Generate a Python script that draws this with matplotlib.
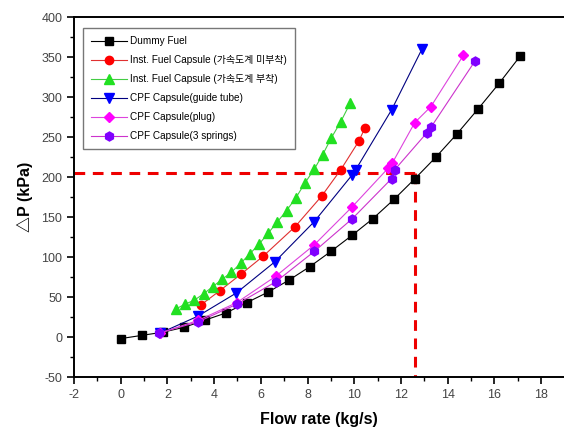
import matplotlib
matplotlib.use("Agg")
import matplotlib.pyplot as plt
from matplotlib.ticker import MultipleLocator

plt.rcParams['font.family'] = ['Liberation Sans', 'Noto Sans CJK KR', 'DejaVu Sans']
plt.rcParams['axes.unicode_minus'] = False

# Data
dummy_x = [0, 0.9, 1.8, 2.7, 3.6, 4.5, 5.4, 6.3, 7.2, 8.1, 9.0, 9.9, 10.8, 11.7, 12.6, 13.5, 14.4, 15.3, 16.2, 17.1]
dummy_y = [-2, 2, 6, 12, 21, 30, 43, 56, 71, 88, 107, 127, 148, 172, 198, 225, 254, 285, 317, 351]

inst_red_x = [3.43, 4.25, 5.17, 6.1, 7.47, 8.6, 9.42, 10.2, 10.45]
inst_red_y = [40, 58, 79, 101, 138, 176, 209, 245, 261]

inst_green_x = [2.36, 2.75, 3.15, 3.55, 3.94, 4.34, 4.74, 5.13, 5.53, 5.92, 6.32, 6.71, 7.1, 7.5, 7.9, 8.29, 8.65, 9.02, 9.42, 9.82]
inst_green_y = [35, 41, 46, 54, 63, 72, 81, 92, 104, 116, 130, 144, 158, 174, 193, 210, 228, 249, 269, 292]

guide_x = [1.7, 3.3, 4.95, 6.6, 8.28, 9.92, 10.06, 11.6, 12.9]
guide_y = [5, 26, 55, 94, 144, 203, 209, 284, 360]

plug_x = [1.7, 3.33, 4.97, 6.64, 8.28, 9.92, 11.45, 11.62, 12.59, 13.28, 14.67]
plug_y = [5, 21, 43, 76, 115, 163, 211, 217, 268, 288, 352]

spring_x = [1.65, 3.32, 4.97, 6.64, 8.29, 9.92, 11.6, 11.73, 13.1, 13.28, 15.17]
spring_y = [5, 19, 41, 69, 107, 148, 198, 209, 255, 262, 345]

ref_flow = 12.6
ref_dp = 205

labels = ["Dummy Fuel",
          "Inst. Fuel Capsule (가속도계 미부착)",
          "Inst. Fuel Capsule (가속도계 부착)",
          "CPF Capsule(guide tube)",
          "CPF Capsule(plug)",
          "CPF Capsule(3 springs)"]

fig = plt.figure(figsize=(5.64, 4.32), dpi=100)
ax = fig.add_axes([74/564, 55/432, 1 - 74/564, 360/432])

series = [
    (dummy_x, dummy_y, 's', 'black', 'black', 5.5),
    (inst_red_x, inst_red_y, 'o', '#ff0000', '#e03030', 6),
    (inst_green_x, inst_green_y, '^', '#22e022', '#44cc44', 6.5),
    (guide_x, guide_y, 'v', '#0000ff', '#000080', 6.5),
    (plug_x, plug_y, 'D', '#ff00ff', '#dd44dd', 5.5),
    (spring_x, spring_y, 'h', '#8000ff', '#cc33cc', 6.5),
]
for (x, y, m, mc, lc, ms), lab in zip(series, labels):
    ax.plot(x, y, color=lc, lw=0.8, marker=m, markersize=ms,
            markerfacecolor=mc, markeredgecolor=mc, label=lab)

# reference dashed lines
ax.plot([-2, ref_flow], [ref_dp, ref_dp], color='#ee0000', lw=2.2, ls=(0, (3.5, 2.5)), zorder=1)
ax.plot([ref_flow, ref_flow], [ref_dp, -50], color='#ee0000', lw=2.2, ls=(0, (3.5, 2.5)), zorder=1)

ax.set_xlim(-2, 18.98)
ax.set_ylim(-50, 400)
ax.xaxis.set_major_locator(MultipleLocator(2))
ax.xaxis.set_minor_locator(MultipleLocator(1))
ax.yaxis.set_major_locator(MultipleLocator(50))
ax.yaxis.set_minor_locator(MultipleLocator(25))
ax.tick_params(which='major', direction='out', length=5, width=1.2, labelsize=9, labelcolor='#444444')
ax.tick_params(which='minor', direction='out', length=3, width=1.0)
ax.spines['right'].set_visible(False)
for s in ['left', 'bottom', 'top']:
    ax.spines[s].set_linewidth(1.4)

ax.set_xlabel("Flow rate (kg/s)", fontsize=11.5, fontweight='bold', labelpad=8)
ax.set_ylabel("△P (kPa)", fontsize=11.5, fontweight='bold', labelpad=6)

leg = ax.legend(loc='upper left', bbox_to_anchor=(0.018, 0.969), borderaxespad=0,
                fontsize=7.2, frameon=True, fancybox=False, handlelength=3.6,
                handletextpad=0.3, labelspacing=0.9, borderpad=0.8)
leg.get_frame().set_edgecolor('#555555')
leg.get_frame().set_linewidth(1.0)

fig.savefig("out.png", dpi=100)
